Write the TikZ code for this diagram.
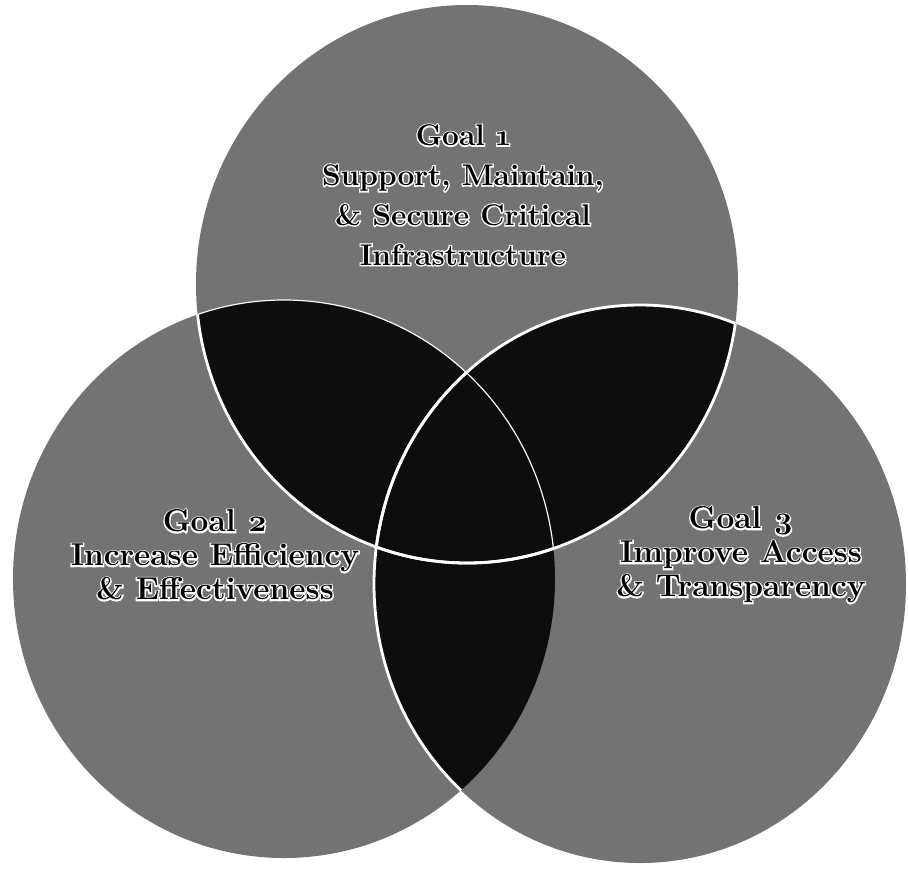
\documentclass[tikz,border=0pt]{standalone}
\usepackage{fontspec}
\setmainfont{Latin Modern Roman}[Numbers=OldStyle]
\newfontfamily\halofont{Latin Modern Roman}[Numbers=OldStyle, BoldFeatures={FakeBold=9}]
\newcommand\hal[1]{\rlap{\color{white}\halofont\bfseries #1}{\color{black}#1}}
\def\Ctop{(467,284) ellipse [x radius=271, y radius=279]}
\def\Cleft{(284,579) ellipse [x radius=271, y radius=279]}
\def\Cright{(640,584) ellipse [x radius=266, y radius=279]}
\tikzset{
  circfill/.style={fill=black!55},
  overlap/.style={fill=black!95},
  rim/.style={draw=white, line width=2.4pt},
  thinrim/.style={draw=white, line width=1pt},
  goal/.style={text=black, align=center, inner sep=0pt}
}
\begin{document}
\begin{tikzpicture}[x=0.03cm, y=-0.03cm]
\useasboundingbox (0,0) rectangle (908,869);
% circles
\fill[circfill] \Ctop;
\fill[circfill] \Cleft;
\fill[circfill] \Cright;
% overlaps
\begin{scope}
  \clip \Ctop;
  \fill[overlap] \Cleft;
  \fill[overlap] \Cright;
\end{scope}
\begin{scope}
  \clip \Cleft;
  \fill[overlap] \Cright;
\end{scope}
% white rims inside overlaps
\begin{scope}
  \clip \Cleft;
  \path[rim] \Ctop;
\end{scope}
\begin{scope}
  \clip \Cright;
  \path[rim] \Ctop;
\end{scope}
\begin{scope}
  \clip \Ctop;
  \path[rim] \Cright;
\end{scope}
\begin{scope}
  \clip \Cleft;
  \path[rim] \Cright;
\end{scope}
\begin{scope}
  \clip \Ctop;
  \path[thinrim] \Cleft;
\end{scope}
% labels
\node[goal, font=\bfseries\fontsize{25.5}{34}\selectfont] (g1) at (463,195)
  {\hal{Goal 1}\\\hal{Support, Maintain,}\\\hal{\& Secure Critical}\\\hal{Infrastructure}};
\node[goal, font=\bfseries\fontsize{27}{29}\selectfont] (g2) at (215,555)
  {\hal{Goal 2}\\\hal{Increase Efficiency}\\\hal{\& Effectiveness}};
\node[goal, font=\bfseries\fontsize{27}{29}\selectfont] (g3) at (741,555)
  {\hal{Goal 3}\\\hal{Improve Access}\\\hal{\& Transparency}};
\end{tikzpicture}
\end{document}
